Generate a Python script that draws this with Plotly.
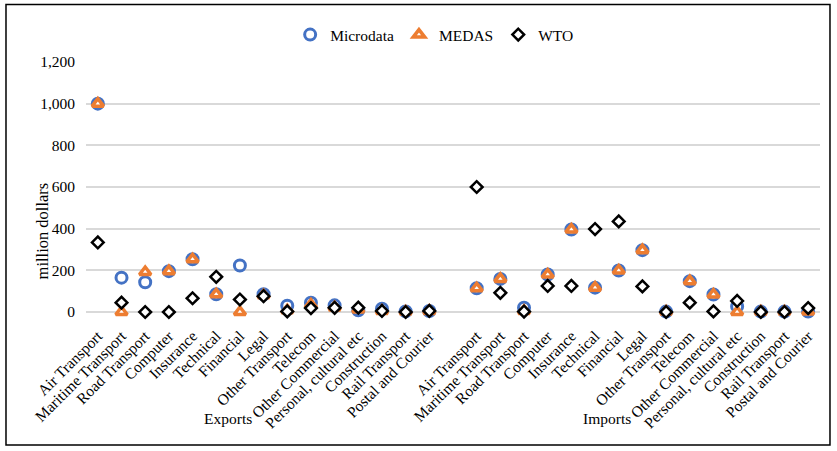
import plotly.graph_objects as go

services = ["Air Transport", "Maritime Transport", "Road Transport", "Computer", "Insurance",
            "Technical", "Financial", "Legal", "Other Transport", "Telecom",
            "Other Commercial", "Personal, cultural etc", "Construction", "Rail Transport",
            "Postal and Courier"]
groups = ["Exports", "Imports"]

# values in million dollars
micro_exp = [1000, 165, 143, 196, 253, 85, 223, 85, 30, 45, 32, 8, 16, 3, 5]
medas_exp = [1000, 0, 192, 196, 253, 85, 0, 80, 8, 35, 22, 12, 5, 2, 5]
wto_exp = [334, 45, 0, 0, 66, 169, 60, 76, 3, 19, 20, 21, 5, 0, 5]

micro_imp = [114, 159, 21, 180, 396, 117, 199, 297, 2, 148, 84, 27, 2, 2, 2]
medas_imp = [114, 159, 5, 180, 396, 117, 199, 297, 2, 148, 84, 0, 2, 2, 2]
wto_imp = [600, 92, 2, 125, 125, 398, 435, 123, 0, 45, 3, 53, 0, 0, 19]

n = len(services)
# one empty slot between the two groups
x_pos = list(range(n)) + list(range(n + 1, 2 * n + 1))

FONT = "Liberation Serif"

fig = go.Figure()
fig.add_trace(go.Scatter(
    x=x_pos, y=micro_exp + micro_imp, mode="markers", name="Microdata", cliponaxis=False,
    marker=dict(symbol="circle", size=11, color="rgba(0,0,0,0)",
                line=dict(color="#4472C4", width=3))))
fig.add_trace(go.Scatter(
    x=x_pos, y=medas_exp + medas_imp, mode="markers", name="MEDAS", cliponaxis=False,
    marker=dict(symbol="triangle-up", size=10, color="white",
                line=dict(color="#ED7D31", width=3.5))))
fig.add_trace(go.Scatter(
    x=x_pos, y=wto_exp + wto_imp, mode="markers", name="WTO", cliponaxis=False,
    marker=dict(symbol="diamond", size=9, color="white",
                line=dict(color="black", width=2.5))))

fig.update_layout(
    width=837, height=451,
    margin=dict(l=86, r=17, t=62, b=139),
    plot_bgcolor="white", paper_bgcolor="white",
    font=dict(family=FONT, size=15, color="black"),
    showlegend=True,
    legend=dict(orientation="h", x=0.475, y=1.108, xanchor="center", yanchor="middle",
                font=dict(family=FONT, size=15.5)),
)
fig.update_xaxes(
    range=[-0.5, 2 * n + 0.5], automargin=False,
    tickmode="array", tickvals=x_pos, ticktext=services + services,
    tickangle=-45, showgrid=False, zeroline=False, showline=False, ticks="",
    tickfont=dict(family=FONT, size=15.5), ticklabelstandoff=11)
fig.update_yaxes(
    range=[0, 1200], dtick=200, tickformat=",", automargin=False,
    showgrid=True, gridcolor="#D9D9D9", gridwidth=1.5,
    zeroline=True, zerolinecolor="#D9D9D9", zerolinewidth=1.5,
    showline=False, ticks="", tickfont=dict(family=FONT, size=15.5), ticklabelstandoff=10)

fig.add_annotation(text="million dollars", textangle=-90, xref="paper", yref="paper",
                   x=-0.058, y=0.324, xanchor="center", yanchor="middle",
                   showarrow=False, font=dict(family=FONT, size=16.5))
for g, gx in zip(groups, [(n - 1) / 2 - 1.5, n + 1 + (n - 1) / 2 - 1.5]):
    fig.add_annotation(text=g, xref="x", yref="paper", x=gx, y=-0.424,
                       xanchor="center", yanchor="middle",
                       showarrow=False, font=dict(family=FONT, size=15.5))

# outer frame around the whole chart
fig.add_shape(type="rect", xref="paper", yref="paper",
              x0=-0.109, x1=1.0136, y0=-0.532, y1=1.23,
              line=dict(color="black", width=1.5))

fig.write_html("out.html", config={"displayModeBar": False},
               post_script="document.body.style.margin='0';")
